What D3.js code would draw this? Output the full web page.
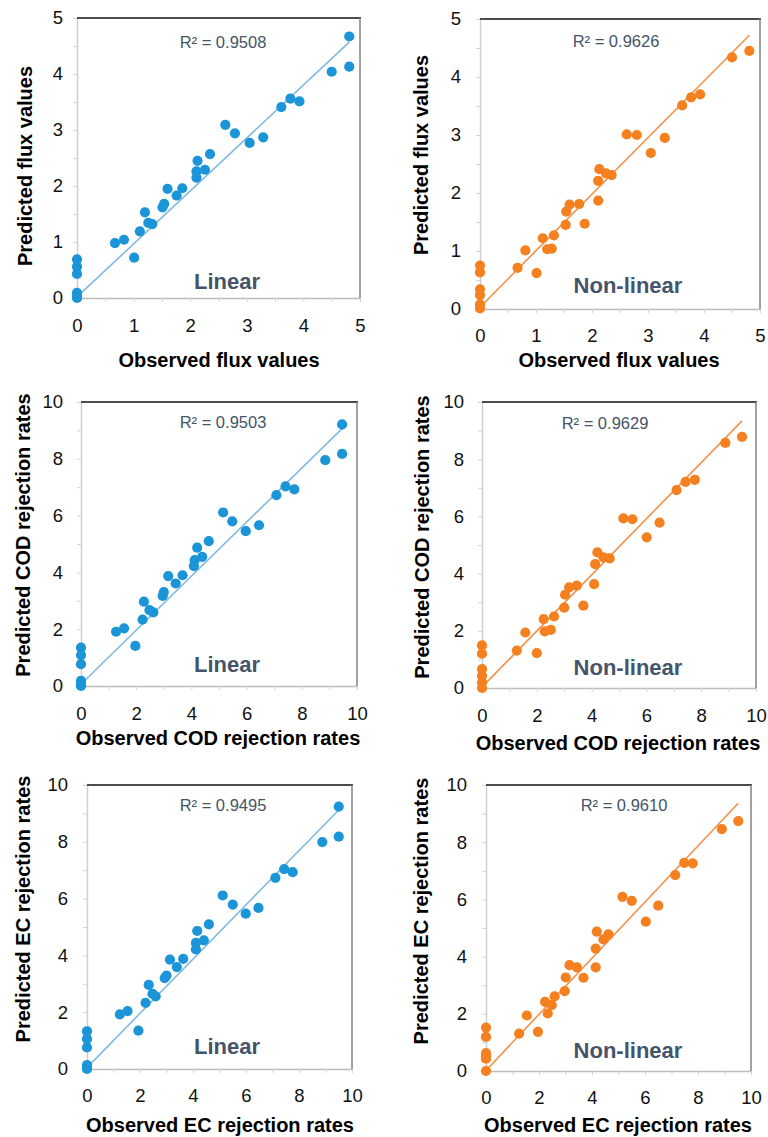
<!DOCTYPE html>
<html>
<head>
<meta charset="utf-8">
<script src="https://cdn.jsdelivr.net/npm/d3@7"></script>
<style>
  body { margin: 0; background: #fff; }
  text { font-family: "Liberation Sans", Arial, sans-serif; }
</style>
</head>
<body>
<script>
// ---- data ----
const fluxTicks = [0, 1, 2, 3, 4, 5];
const rateTicks = [0, 2, 4, 6, 8, 10];

const fluxLinObs  = [0, 0, 0, 0, 0, 0, 0.67, 0.83, 1.01, 1.11, 1.20, 1.26, 1.33, 1.51, 1.54, 1.60, 1.76, 1.86, 2.11, 2.11, 2.13, 2.26, 2.35, 2.62, 2.79, 3.05, 3.29, 3.61, 3.77, 3.93, 4.50, 4.81, 4.81];
const fluxLinPred = [0.69, 0.56, 0.43, 0.09, 0.03, 0, 0.98, 1.04, 0.72, 1.19, 1.53, 1.34, 1.32, 1.62, 1.68, 1.95, 1.83, 1.96, 2.15, 2.26, 2.45, 2.29, 2.57, 3.09, 2.94, 2.77, 2.87, 3.41, 3.56, 3.51, 4.04, 4.67, 4.13];

const fluxNlObs  = [0, 0, 0, 0, 0, 0, 0.67, 0.81, 1.01, 1.12, 1.20, 1.28, 1.32, 1.53, 1.54, 1.60, 1.77, 1.87, 2.11, 2.11, 2.13, 2.25, 2.35, 2.62, 2.80, 3.05, 3.30, 3.61, 3.77, 3.93, 4.50, 4.81];
const fluxNlPred = [0.75, 0.63, 0.34, 0.24, 0.08, 0.01, 0.71, 1.01, 0.62, 1.22, 1.03, 1.04, 1.27, 1.45, 1.68, 1.80, 1.81, 1.47, 1.87, 2.21, 2.41, 2.34, 2.31, 3.01, 3.00, 2.69, 2.95, 3.51, 3.65, 3.70, 4.34, 4.45];

const codLinObs  = [0, 0, 0, 0, 0, 0, 1.27, 1.56, 1.97, 2.23, 2.28, 2.48, 2.62, 2.96, 3.00, 3.16, 3.43, 3.68, 4.09, 4.12, 4.21, 4.39, 4.63, 5.15, 5.48, 5.97, 6.45, 7.08, 7.41, 7.73, 8.85, 9.46, 9.46];
const codLinPred = [1.35, 1.09, 0.77, 0.18, 0.06, 0, 1.91, 2.03, 1.41, 2.34, 2.97, 2.67, 2.59, 3.17, 3.31, 3.87, 3.61, 3.90, 4.22, 4.43, 4.87, 4.55, 5.10, 6.11, 5.80, 5.45, 5.66, 6.72, 7.03, 6.92, 7.95, 9.21, 8.17];

const codNlObs  = [0, 0, 0, 0, 0, 0, 1.27, 1.58, 2.00, 2.25, 2.29, 2.51, 2.63, 3.00, 3.03, 3.18, 3.46, 3.70, 4.09, 4.13, 4.21, 4.43, 4.66, 5.16, 5.49, 6.01, 6.48, 7.10, 7.43, 7.77, 8.88, 9.49];
const codNlPred = [1.49, 1.20, 0.66, 0.43, 0.20, 0, 1.31, 1.94, 1.22, 2.41, 1.98, 2.03, 2.50, 2.81, 3.26, 3.52, 3.58, 2.88, 3.63, 4.33, 4.74, 4.57, 4.53, 5.93, 5.90, 5.27, 5.78, 6.92, 7.21, 7.28, 8.57, 8.78];

const ecLinObs  = [0, 0, 0, 0, 0, 0, 1.24, 1.53, 1.94, 2.21, 2.33, 2.47, 2.59, 2.93, 3.00, 3.13, 3.39, 3.63, 4.11, 4.11, 4.16, 4.41, 4.60, 5.12, 5.50, 5.99, 6.47, 7.11, 7.44, 7.76, 8.88, 9.50, 9.50];
const ecLinPred = [1.33, 1.06, 0.76, 0.14, 0.05, 0, 1.92, 2.04, 1.35, 2.33, 2.96, 2.65, 2.56, 3.20, 3.29, 3.85, 3.59, 3.88, 4.21, 4.44, 4.86, 4.53, 5.09, 6.11, 5.79, 5.47, 5.67, 6.73, 7.04, 6.93, 7.99, 9.24, 8.18];

const ecNlObs  = [0, 0, 0, 0, 0, 0, 1.25, 1.54, 1.96, 2.23, 2.33, 2.48, 2.59, 2.97, 3.01, 3.15, 3.43, 3.68, 4.14, 4.14, 4.18, 4.43, 4.62, 5.15, 5.50, 6.03, 6.50, 7.14, 7.48, 7.80, 8.90, 9.52];
const ecNlPred = [1.52, 1.19, 0.63, 0.52, 0.43, 0, 1.31, 1.94, 1.37, 2.42, 2.01, 2.30, 2.61, 2.79, 3.27, 3.70, 3.62, 3.26, 3.62, 4.28, 4.87, 4.60, 4.78, 6.09, 5.95, 5.22, 5.78, 6.85, 7.28, 7.26, 8.46, 8.74];

// trendline endpoints [x0, y0, x1, y1]
const trendLines = [
  [0, 0.02, 4.81, 4.57],
  [0, 0.03, 4.81, 4.72],
  [0, 0.06, 9.46, 9.06],
  [0, 0.03, 9.49, 9.34],
  [0, 0.05, 9.50, 9.12],
  [0, 0.02, 9.52, 9.36]
];
const r2Labels = ["R² = 0.9508", "R² = 0.9626", "R² = 0.9503", "R² = 0.9629", "R² = 0.9495", "R² = 0.9610"];
const modelLabels = ["Linear", "Non-linear", "Linear", "Non-linear", "Linear", "Non-linear"];
const xTitles = ["Observed flux values", "Observed flux values", "Observed COD rejection rates", "Observed COD rejection rates", "Observed EC rejection rates", "Observed EC rejection rates"];
const yTitles = ["Predicted flux values", "Predicted flux values", "Predicted COD rejection rates", "Predicted COD rejection rates", "Predicted EC rejection rates", "Predicted EC rejection rates"];

const panelData = [
  {obs: fluxLinObs, pred: fluxLinPred, ticks: fluxTicks},
  {obs: fluxNlObs,  pred: fluxNlPred,  ticks: fluxTicks},
  {obs: codLinObs,  pred: codLinPred,  ticks: rateTicks},
  {obs: codNlObs,   pred: codNlPred,   ticks: rateTicks},
  {obs: ecLinObs,   pred: ecLinPred,   ticks: rateTicks},
  {obs: ecNlObs,    pred: ecNlPred,    ticks: rateTicks}
];

// ---- layout ----
const blue = "#1c95d8", blueLine = "#7fb9e2";
const orange = "#f5801f", orangeLine = "#f4914a";
const slate = "#44546a";

const layout = [
  {left: 77,  right: 360, top: 18,  bottom: 298,  xLab: 325,  xTit: 360,  yLab: 63,  yTit: 25,  yTitC: 166, xTitC: 219, r2x: 223, r2y: 42,  mx: 227, my: 281,  dot: blue,   line: blueLine},
  {left: 480, right: 760, top: 19,  bottom: 309,  xLab: 335,  xTit: 360,  yLab: 461, yTit: 421, yTitC: 155, xTitC: 619, r2x: 616, r2y: 41,  mx: 628, my: 285,  dot: orange, line: orangeLine},
  {left: 81,  right: 357, top: 402, bottom: 686,  xLab: 713,  xTit: 738,  yLab: 63,  yTit: 23,  yTitC: 535, xTitC: 218, r2x: 223, r2y: 422, mx: 227, my: 664,  dot: blue,   line: blueLine},
  {left: 482, right: 756, top: 402, bottom: 688,  xLab: 715,  xTit: 743,  yLab: 464, yTit: 422, yTitC: 537, xTitC: 618, r2x: 605, r2y: 423, mx: 628, my: 667,  dot: orange, line: orangeLine},
  {left: 87,  right: 352, top: 785, bottom: 1069, xLab: 1095, xTit: 1125, yLab: 68,  yTit: 23,  yTitC: 909, xTitC: 220, r2x: 223, r2y: 805, mx: 227, my: 1046, dot: blue,   line: blueLine},
  {left: 486, right: 751, top: 785, bottom: 1071, xLab: 1097, xTit: 1125, yLab: 467, yTit: 421, yTitC: 911, xTitC: 618, r2x: 624, r2y: 805, mx: 628, my: 1050, dot: orange, line: orangeLine}
];

const svg = d3.select("body").append("svg")
  .attr("width", 768)
  .attr("height", 1137);

panelData.forEach((d, i) => drawPanel(d, layout[i], i));

function drawPanel(d, p, i) {
  const max = d3.max(d.ticks);
  const step = d.ticks[1] - d.ticks[0];
  const x = d3.scaleLinear().domain([0, max]).range([p.left, p.right]);
  const y = d3.scaleLinear().domain([0, max]).range([p.bottom, p.top]);
  const minor = d3.range(0, max + 1e-9, step / 2);
  const fmt = v => d.ticks.includes(+v.toFixed(3)) ? v : "";
  const g = svg.append("g");

  // axes (ticks every half step, labels on the major ones)
  const xa = g.append("g")
    .attr("transform", `translate(0,${p.bottom})`)
    .call(d3.axisBottom(x).tickValues(minor).tickSizeInner(4).tickSizeOuter(0)
      .tickPadding(p.xLab - p.bottom - 4 - 6.5).tickFormat(fmt));
  const ya = g.append("g")
    .attr("transform", `translate(${p.left},0)`)
    .call(d3.axisLeft(y).tickValues(minor).tickSizeInner(4).tickSizeOuter(0)
      .tickPadding(p.left - p.yLab - 4).tickFormat(fmt));
  xa.select(".domain").attr("stroke", "#bdbdbd").attr("stroke-width", 1.5);
  ya.select(".domain").attr("stroke", "#cfcfcf").attr("stroke-width", 1.5);
  g.selectAll(".tick line").attr("stroke", "#d4d4d4");
  g.selectAll(".tick text").attr("fill", "#111").style("font-size", "18.5px")
    .style("font-family", "'Liberation Sans', Arial, sans-serif");

  // frame: dark top, grey right
  g.append("line").attr("x1", p.left).attr("x2", p.right + 1).attr("y1", p.top).attr("y2", p.top)
    .attr("stroke", "#111").attr("stroke-width", 1.6);
  g.append("line").attr("x1", p.right).attr("x2", p.right).attr("y1", p.top).attr("y2", p.bottom)
    .attr("stroke", "#8a8a8a").attr("stroke-width", 1.6);

  // trendline
  const t = trendLines[i];
  g.append("line")
    .attr("x1", x(t[0])).attr("y1", y(t[1]))
    .attr("x2", x(t[2])).attr("y2", y(t[3]))
    .attr("stroke", p.line).attr("stroke-width", 1.6);

  // points
  g.append("g").selectAll("circle")
    .data(d.obs.map((o, k) => [o, d.pred[k]]))
    .join("circle")
    .attr("cx", v => x(v[0]))
    .attr("cy", v => y(v[1]))
    .attr("r", 5.1)
    .attr("fill", p.dot);

  // annotations
  g.append("text").attr("x", p.r2x).attr("y", p.r2y).attr("dy", "0.35em")
    .attr("text-anchor", "middle").attr("fill", slate)
    .style("font-size", "16.5px").text(r2Labels[i]);
  g.append("text").attr("x", p.mx).attr("y", p.my).attr("dy", "0.35em")
    .attr("text-anchor", "middle").attr("fill", slate)
    .style("font-size", "22px").style("font-weight", "bold").text(modelLabels[i]);

  // axis titles
  g.append("text").attr("x", p.xTitC).attr("y", p.xTit).attr("dy", "0.35em")
    .attr("text-anchor", "middle").attr("fill", "#000")
    .style("font-size", "20px").style("font-weight", "bold").text(xTitles[i]);
  g.append("text")
    .attr("transform", `translate(${p.yTit},${p.yTitC}) rotate(-90)`)
    .attr("dy", "0.35em")
    .attr("text-anchor", "middle").attr("fill", "#000")
    .style("font-size", "20px").style("font-weight", "bold").text(yTitles[i]);
}
</script>
</body>
</html>
